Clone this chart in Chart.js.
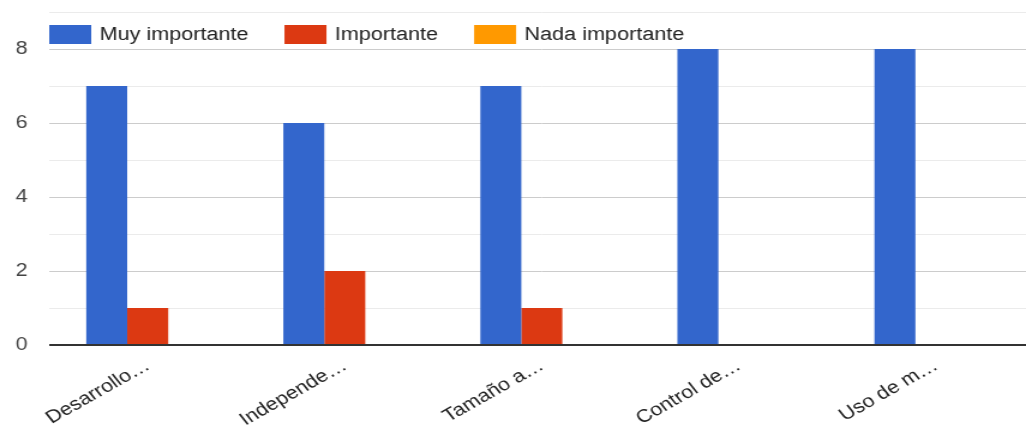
<!DOCTYPE html>
<html>
<head>
<meta charset="utf-8">
<script src="https://cdn.jsdelivr.net/npm/chart.js@4"></script>
<style>
    body { margin: 0; background: #fff; overflow: hidden; }
    /* la imagen original está un poco estirada a lo ancho y cortada a la derecha */
    #contenedor { width: 862px; height: 431px; transform: scaleX(1.2); transform-origin: 0 0; }
</style>
</head>
<body>
<div id="contenedor"><canvas id="barras"></canvas></div>
<script>
//Datos
const categorias = ['Desarrollo…', 'Independe…', 'Tamaño a…', 'Control de…', 'Uso de m…'];
const muyImportante = [7, 6, 7, 8, 8];
const importante = [1, 2, 1, 0, 0];
const nadaImportante = [0, 0, 0, 0, 0];

const nombresSeries = ['Muy importante', 'Importante', 'Nada importante'];
const coloresSeries = ['#3366cc', '#dc3912', '#ff9900'];

const fuente = { family: 'Arial, "Liberation Sans", sans-serif', size: 18 };

// leyenda dibujada dentro del área del gráfico, como en Google Charts
const leyendaDentro = {
    id: 'leyendaDentro',
    afterDraw(chart) {
        const ctx = chart.ctx;
        let x = chart.chartArea.left;
        const y = 25;
        ctx.save();
        ctx.font = fuente.size + 'px ' + fuente.family;
        ctx.textBaseline = 'middle';
        ctx.textAlign = 'left';
        chart.data.datasets.forEach((ds) => {
            ctx.fillStyle = ds.backgroundColor;
            ctx.fillRect(x, y, 35, 19);
            x += 35 + 7;
            ctx.fillStyle = '#222';
            ctx.fillText(ds.label, x, y + 10);
            x += ctx.measureText(ds.label).width + 30;
        });
        ctx.restore();
    }
};

const dataBarra = {
    labels: categorias,
    datasets: [
        { label: nombresSeries[0], data: muyImportante, backgroundColor: coloresSeries[0] },
        { label: nombresSeries[1], data: importante, backgroundColor: coloresSeries[1] },
        { label: nombresSeries[2], data: nadaImportante, backgroundColor: coloresSeries[2] }
    ]
};

const configBarra = {
    type: 'bar',
    data: dataBarra,
    plugins: [leyendaDentro],
    options: {
        responsive: true,
        maintainAspectRatio: false,
        animation: false,
        categoryPercentage: 0.624,
        barPercentage: 1.0,
        layout: { padding: { top: 12, right: 0, left: 0, bottom: 0 } },
        plugins: {
            legend: { display: false },
            tooltip: { enabled: false }
        },
        scales: {
            x: {
                grid: { display: false },
                border: { display: false },
                ticks: {
                    font: fuente,
                    color: '#222',
                    minRotation: 34,
                    maxRotation: 34,
                    autoSkip: false,
                    padding: 2
                },
                afterFit(scale) { scale.height = 86; }
            },
            y: {
                min: 0,
                max: 9,
                border: { display: false },
                grid: {
                    drawTicks: false,
                    color: (c) => c.tick.value === 0 ? '#333' : (c.tick.value % 2 === 0 ? '#cccccc' : '#ebebeb'),
                    lineWidth: (c) => c.tick.value === 0 ? 2 : 1
                },
                ticks: {
                    stepSize: 1,
                    font: fuente,
                    color: '#444',
                    padding: 18,
                    callback: (v) => (v % 2 === 0 && v < 9) ? v : ''
                },
                afterFit(scale) {
                    scale.width = 41;
                    scale.paddingTop = 0;
                    scale.paddingBottom = 0;
                }
            }
        }
    }
};

const myChartBar = new Chart(document.getElementById('barras'), configBarra);
</script>
</body>
</html>
